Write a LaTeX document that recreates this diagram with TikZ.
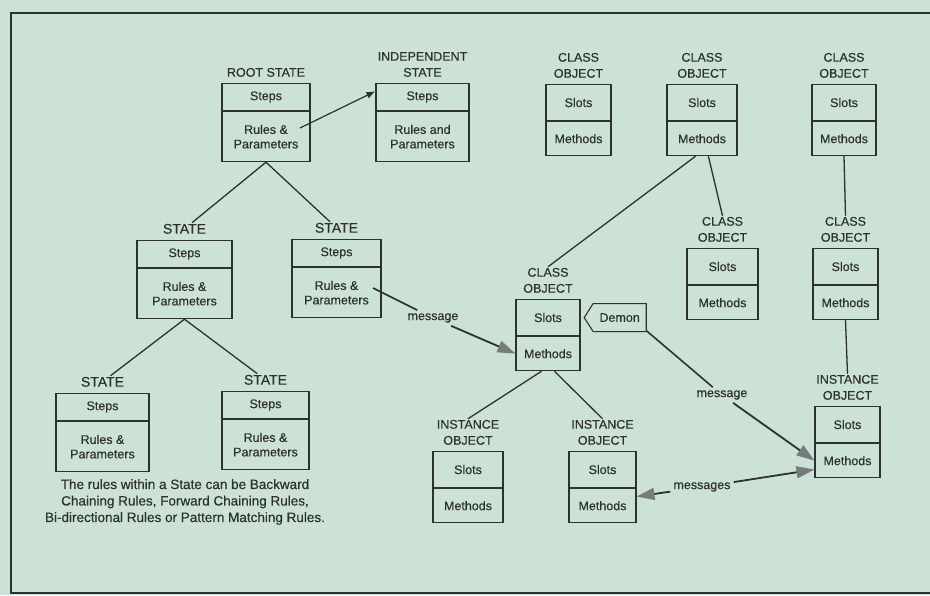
\documentclass[tikz,border=0pt]{standalone}
\usepackage{fontspec}
\setmainfont{Liberation Sans}[UprightFeatures = {FakeBold = 0.4}]
\usetikzlibrary{shapes.symbols,arrows.meta,positioning}

\definecolor{paper}{RGB}{205,226,214}
\definecolor{ink}{RGB}{45,49,47}
\definecolor{tipgray}{RGB}{118,124,122}

\tikzset{
	partbox/.style = {draw = ink, line width = 1.1pt, inner sep = 0pt,
		align = center, text = ink, font = \fontsize{12.5}{14.5}\selectfont},
	lbl/.style = {inner sep = 1pt, align = center, text = ink,
		font = \fontsize{12.5}{16}\selectfont},
	link/.style = {draw = ink, line width = 1.3pt},
	msgline/.style = {draw = ink, line width = 1.6pt},
	msgarrow/.style = {draw = ink, line width = 1.8pt,
		-{Triangle[length = 18pt, width = 12pt, color = tipgray]}},
	thinarrow/.style = {draw = ink, line width = 1.2pt,
		-{Latex[length = 9pt, width = 7pt]}},
	msglbl/.style = {inner sep = 3pt, text = ink, font = \fontsize{12.5}{14}\selectfont}
}

\begin{document}
\begin{tikzpicture}[x = 1pt, y = -1pt]
\useasboundingbox (0,0) rectangle (930,595);
\fill [paper] (0,0) rectangle (930,595);
\draw [ink, line width = 1.4pt] (930,13) -- (11,13) -- (11,593) -- (930,593);

% states
\foreach \n/\x/\y/\w/\head/\rules in {
	root/266/83/88/{ROOT STATE}/{Rules \&\\Parameters},
	indep/422.5/83/93/{INDEPENDENT\\STATE}/{Rules and\\Parameters},
	stL/184.5/240/95/{\fontsize{14}{16}\selectfont STATE}/{Rules \&\\Parameters},
	stR/336.5/239/89/{\fontsize{14}{16}\selectfont STATE}/{Rules \&\\Parameters},
	stBL/102.5/393/93/{\fontsize{14}{16}\selectfont STATE}/{Rules \&\\Parameters},
	stBR/265.5/391/87/{\fontsize{14}{16}\selectfont STATE}/{Rules \&\\Parameters}}
{
	\node [partbox, anchor = north, minimum width = \w, minimum height = 27] (\n-t) at (\x,\y) {Steps};
	\node [partbox, minimum width = \w, minimum height = 50, below = 0pt of \n-t] (\n-b) {\rules};
	\node [lbl, above = 5pt of \n-t] (\n-l) {\head};
}

% objects
\foreach \n/\x/\y/\w/\kind in {
	cls1/578.5/84/65/CLASS, cls2/702/84/70/CLASS, cls3/844/84/64/CLASS,
	cls4/722.5/248/71/CLASS, cls5/845.5/248/65/CLASS, clsM/548/299/64/CLASS,
	instL/468/451/70/INSTANCE, instM/602.5/451/67/INSTANCE, instR/847.5/406/65/INSTANCE}
{
	\node [partbox, anchor = north, minimum width = \w, minimum height = 36] (\n-t) at (\x,\y) {Slots};
	\node [partbox, minimum width = \w, minimum height = 34, below = 0pt of \n-t] (\n-b) {Methods};
	\node [lbl, above = 5pt of \n-t] (\n-l) {\kind\\OBJECT};
}

\node [partbox, shape = signal, signal to = west, signal pointer angle = 115,
	minimum width = 62, minimum height = 28, right = 3pt of clsM-t] (demon) {Demon};

\node [lbl, font = \fontsize{13.5}{16.5}\selectfont] (note) at (185,502)
	{The rules within a State can be Backward\\
	 Chaining Rules, Forward Chaining Rules,\\
	 Bi-directional Rules or Pattern Matching Rules.};

% tree lines
\draw [link] (root-b.south) -- (stL-l);
\draw [link] (root-b.south) -- (stR-l);
\draw [link] (stL-b.south) -- (stBL-l);
\draw [link] (stL-b.south) -- (stBR-l);
\draw [link] (cls2-b.250) -- (clsM-l.north);
\draw [link] (cls2-b.290) -- (cls4-l.north);
\draw [link] (cls3-b.south) -- (cls5-l.north);
\draw [link] (cls5-b.south) -- (instR-l.north);
\draw [link] (clsM-b.250) -- (instL-l.north);
\draw [link] (clsM-b.290) -- (instM-l.north);

% messages
\coordinate (rootout) at (300,128);
\draw [thinarrow] (rootout) -- (indep-t.173);

\node [msglbl] (msg1) at (433,318) {message};
\node [msglbl] (msg2) at (722,395) {message};
\node [msglbl] (msgs) at (702,487) {messages};

\coordinate (stRout) at (373,288);
\draw [msgline] (stRout) -- (msg1);
\draw [msgarrow] (msg1) -- (clsM-b.west);
\draw [msgline] (demon.south east) -- (msg2);
\draw [msgarrow] (msg2) -- (instR-b.west);
\draw [msgarrow] (msgs) -- (instM-b.15);
\draw [msgarrow] (msgs) -- (instR-b.195);
\end{tikzpicture}
\end{document}
